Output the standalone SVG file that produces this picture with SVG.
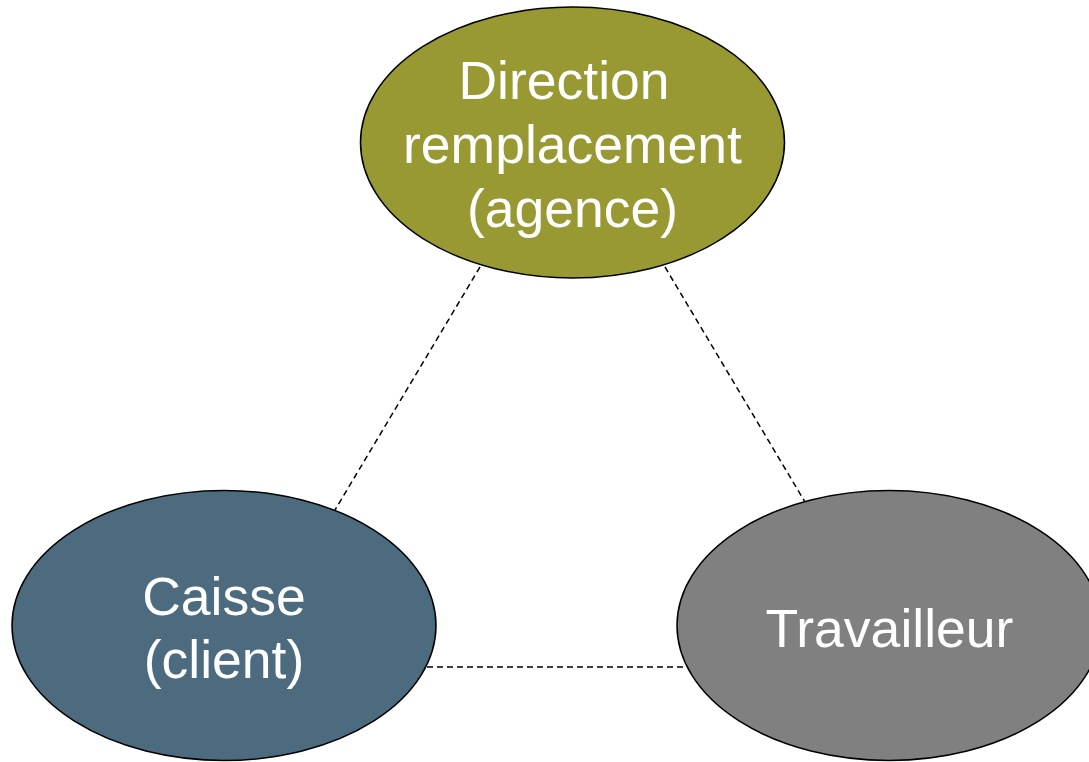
<svg xmlns="http://www.w3.org/2000/svg" width="1089" height="762" viewBox="0 0 1089 762">
<style>
.node{stroke:#000;stroke-width:1.5}
.lbl{font-family:"Liberation Sans",Arial,sans-serif;font-size:53.5px;fill:#fff;text-anchor:middle}
.conn{stroke:#000;stroke-width:1.5;stroke-dasharray:6 4;fill:none}
</style>
<rect width="1089" height="762" fill="#fff"/>
<g id="connectors">
<line class="conn" x1="480" y1="267" x2="335" y2="510"/>
<line class="conn" x1="665" y1="267" x2="805" y2="502"/>
<line class="conn" x1="427" y1="667" x2="686" y2="667"/>
</g>
<g id="direction">
<ellipse class="node" cx="572.5" cy="142.5" rx="212" ry="135.5" fill="#999933"/>
<text class="lbl" x="564" y="99">Direction</text>
<text class="lbl" x="572.5" y="163">remplacement</text>
<text class="lbl" x="572.5" y="227">(agence)</text>
</g>
<g id="caisse">
<ellipse class="node" cx="224" cy="625.5" rx="212" ry="135" fill="#4d6b7f"/>
<text class="lbl" x="224" y="615">Caisse</text>
<text class="lbl" x="224" y="678">(client)</text>
</g>
<g id="travailleur">
<ellipse class="node" cx="889" cy="625.5" rx="212" ry="135" fill="#808080"/>
<text class="lbl" x="889.5" y="647">Travailleur</text>
</g>
</svg>
